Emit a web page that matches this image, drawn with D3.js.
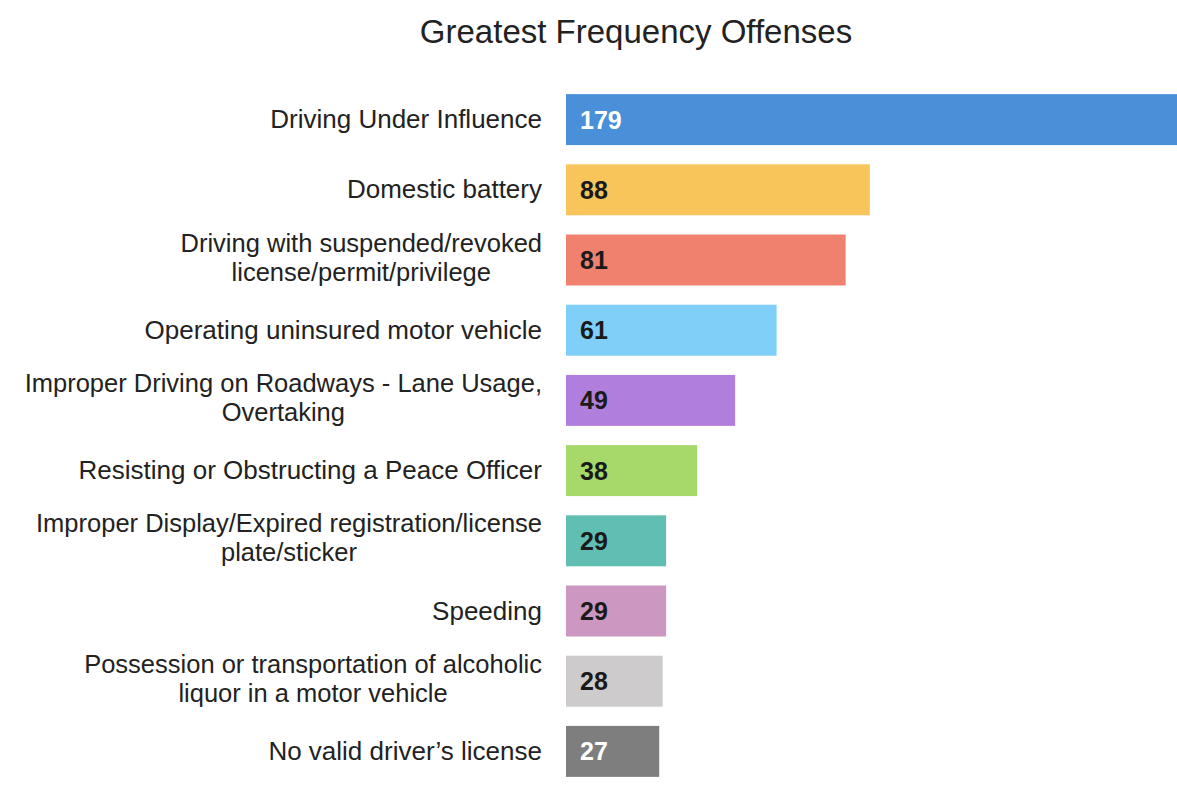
<!DOCTYPE html>
<html>
<head>
<meta charset="utf-8">
<script src="https://cdn.jsdelivr.net/npm/d3@7"></script>
<style>
  html, body { margin: 0; padding: 0; background: #ffffff; }
  svg { display: block; font-family: "Liberation Sans", Arial, sans-serif; }
</style>
</head>
<body>
<svg id="chart" width="1177" height="801"></svg>
<script>
const title = "Greatest Frequency Offenses";
const categories = [
  ["Driving Under Influence"],
  ["Domestic battery"],
  ["Driving with suspended/revoked", "license/permit/privilege"],
  ["Operating uninsured motor vehicle"],
  ["Improper Driving on Roadways - Lane Usage,", "Overtaking"],
  ["Resisting or Obstructing a Peace Officer"],
  ["Improper Display/Expired registration/license", "plate/sticker"],
  ["Speeding"],
  ["Possession or transportation of alcoholic", "liquor in a motor vehicle"],
  ["No valid driver\u2019s license"]
];
const values = [179, 88, 81, 61, 49, 38, 29, 29, 28, 27];
const colors = ["#4a90d9", "#f8c55b", "#f0816f", "#80cff8", "#b07fdd",
                "#a6d96a", "#60beb2", "#cc97c1", "#cdcbcb", "#7e7e7e"];
const valueTextColors = ["#ffffff", "#1a1a1a", "#1a1a1a", "#1a1a1a", "#1a1a1a",
                         "#1a1a1a", "#1a1a1a", "#1a1a1a", "#1a1a1a", "#ffffff"];

const svg = d3.select("#chart");
const ids = d3.range(values.length);

const x = d3.scaleLinear().domain([0, d3.max(values)]).range([566, 1184]);
const y = d3.scaleBand().domain(ids).range([84.5, 786.5]).paddingInner(0.274).paddingOuter(0.137);

svg.append("text")
  .attr("x", 636).attr("y", 43)
  .attr("text-anchor", "middle")
  .attr("font-size", 33)
  .attr("fill", "#222")
  .text(title);

svg.selectAll("rect.bar").data(ids).join("rect")
  .attr("class", "bar")
  .attr("x", x(0))
  .attr("y", i => y(i))
  .attr("width", i => x(values[i]) - x(0))
  .attr("height", y.bandwidth())
  .attr("fill", i => colors[i]);

svg.selectAll("text.val").data(ids).join("text")
  .attr("class", "val")
  .attr("x", x(0) + 14)
  .attr("y", i => y(i) + y.bandwidth() / 2 + 9)
  .attr("font-size", 25)
  .attr("font-weight", "bold")
  .attr("fill", i => valueTextColors[i])
  .text(i => values[i]);

const labelRight = 542;
ids.forEach(i => {
  const lines = categories[i];
  const multi = lines.length > 1;
  const fs = multi ? 25.5 : 26;
  const lineH = 29;
  const cy = y(i) + y.bandwidth() / 2;
  const base = cy + (multi ? 6 : 8.5);
  const g = svg.append("g");
  const texts = lines.map((ln, k) => g.append("text")
    .attr("y", base + (k - (lines.length - 1) / 2) * lineH)
    .attr("font-size", fs)
    .attr("fill", "#222")
    .text(ln));
  const maxW = d3.max(texts, t => t.node().getComputedTextLength());
  texts.forEach(t => t.attr("text-anchor", "middle").attr("x", labelRight - maxW / 2));
});
</script>
</body>
</html>
